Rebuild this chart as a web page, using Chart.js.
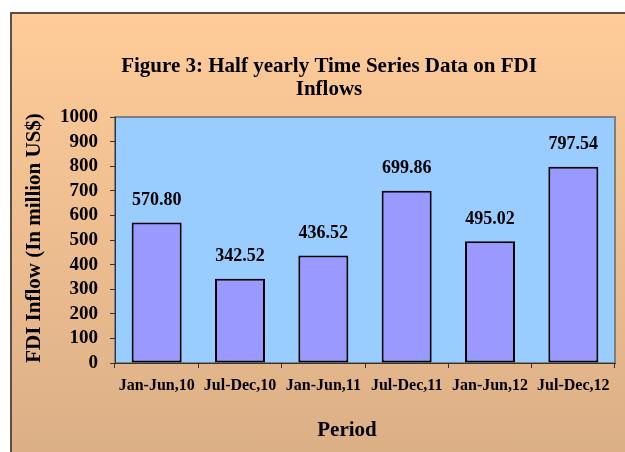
<!DOCTYPE html>
<html><head><meta charset="utf-8">
<script src="https://cdn.jsdelivr.net/npm/chart.js@4"></script>
<style>
html,body{margin:0;padding:0;background:#fff;width:625px;height:452px;overflow:hidden}
#frame{position:absolute;left:10px;top:12px;width:640px;height:460px;border-left:2px solid #5b4f44;border-top:2px solid #5b4f44;background:linear-gradient(#FFCC99,#DAAE86)}
#c{position:absolute;left:0;top:0}
</style></head><body>
<div id="frame"></div>
<canvas id="c" width="625" height="452"></canvas>
<script>
const categories = ["Jan-Jun,10","Jul-Dec,10","Jan-Jun,11","Jul-Dec,11","Jan-Jun,12","Jul-Dec,12"];
const fdiValues = [570.80, 342.52, 436.52, 699.86, 495.02, 797.54];
const yTicks = [0,100,200,300,400,500,600,700,800,900,1000];
const titleLines = ["Figure 3: Half yearly Time Series Data on FDI","Inflows"];
const xTitle = "Period";
const yTitle = "FDI Inflow (In million US$)";

const SERIF = "'Liberation Serif','Times New Roman',serif";

const plotBg = {
  id:'plotBg',
  beforeDraw(chart){
    const {ctx, chartArea:a} = chart;
    ctx.save();
    ctx.fillStyle = '#99CCFF';
    ctx.fillRect(a.left, a.top, a.right-a.left, a.bottom-a.top);
    ctx.strokeStyle = '#808080';
    ctx.lineWidth = 2;
    ctx.strokeRect(a.left, a.top, a.right-a.left, a.bottom-a.top);
    ctx.restore();
  }
};

const valueLabels = {
  id:'valueLabels',
  afterDatasetsDraw(chart){
    const ctx = chart.ctx;
    const meta = chart.getDatasetMeta(0);
    ctx.save();
    ctx.font = "bold 18px " + SERIF;
    ctx.fillStyle = '#000';
    ctx.textAlign = 'center';
    ctx.textBaseline = 'middle';
    meta.data.forEach((bar,i)=>{
      ctx.fillText(fdiValues[i].toFixed(2), bar.x, bar.y - 22);
    });
    ctx.restore();
  }
};

const titles = {
  id:'titles',
  afterDraw(chart){
    const {ctx, chartArea:a} = chart;
    ctx.save();
    ctx.fillStyle = '#000';
    ctx.textAlign = 'center';
    ctx.textBaseline = 'middle';
    ctx.font = "bold 21px " + SERIF;
    titleLines.forEach((t,i)=>ctx.fillText(t, 329, 67 + i*23));
    ctx.fillText(xTitle, (a.left+a.right)/2 - 18, 431);
    ctx.translate(35, (a.top+a.bottom)/2 - 2);
    ctx.rotate(-Math.PI/2);
    ctx.fillText(yTitle, 0, 0);
    ctx.restore();
  }
};

new Chart(document.getElementById('c'), {
  type:'bar',
  data:{
    labels: categories,
    datasets:[{
      data: fdiValues,
      backgroundColor:'#9999FF',
      borderColor:'#000',
      borderWidth:2,
      borderSkipped:false,
      barPercentage:0.6,
      categoryPercentage:1.0
    }]
  },
  options:{
    responsive:false,
    animation:false,
    devicePixelRatio:1,
    layout:{padding:{top:117,left:0,right:10,bottom:0}},
    plugins:{legend:{display:false}, title:{display:false}, tooltip:{enabled:false}},
    scales:{
      x:{
        grid:{display:true, drawOnChartArea:false, drawTicks:true, tickLength:5, color:'#333', lineWidth:1},
        border:{display:true, color:'#333', width:1},
        ticks:{font:{family:SERIF, size:16, weight:'bold'}, color:'#000', padding:8, maxRotation:0, autoSkip:false},
        afterFit(s){ s.height = 89; }
      },
      y:{
        min:yTicks[0], max:yTicks[yTicks.length-1],
        afterBuildTicks(s){ s.ticks = yTicks.map(v=>({value:v})); },
        grid:{display:true, drawOnChartArea:false, drawTicks:true, tickLength:5, color:'#333', lineWidth:1},
        border:{display:true, color:'#333', width:1},
        ticks:{font:{family:SERIF, size:19, weight:'bold'}, color:'#000', padding:12, autoSkip:false, callback:(v)=>String(v)},
        afterFit(s){ s.width = 115; }
      }
    }
  },
  plugins:[plotBg, valueLabels, titles]
});
</script>
</body></html>
